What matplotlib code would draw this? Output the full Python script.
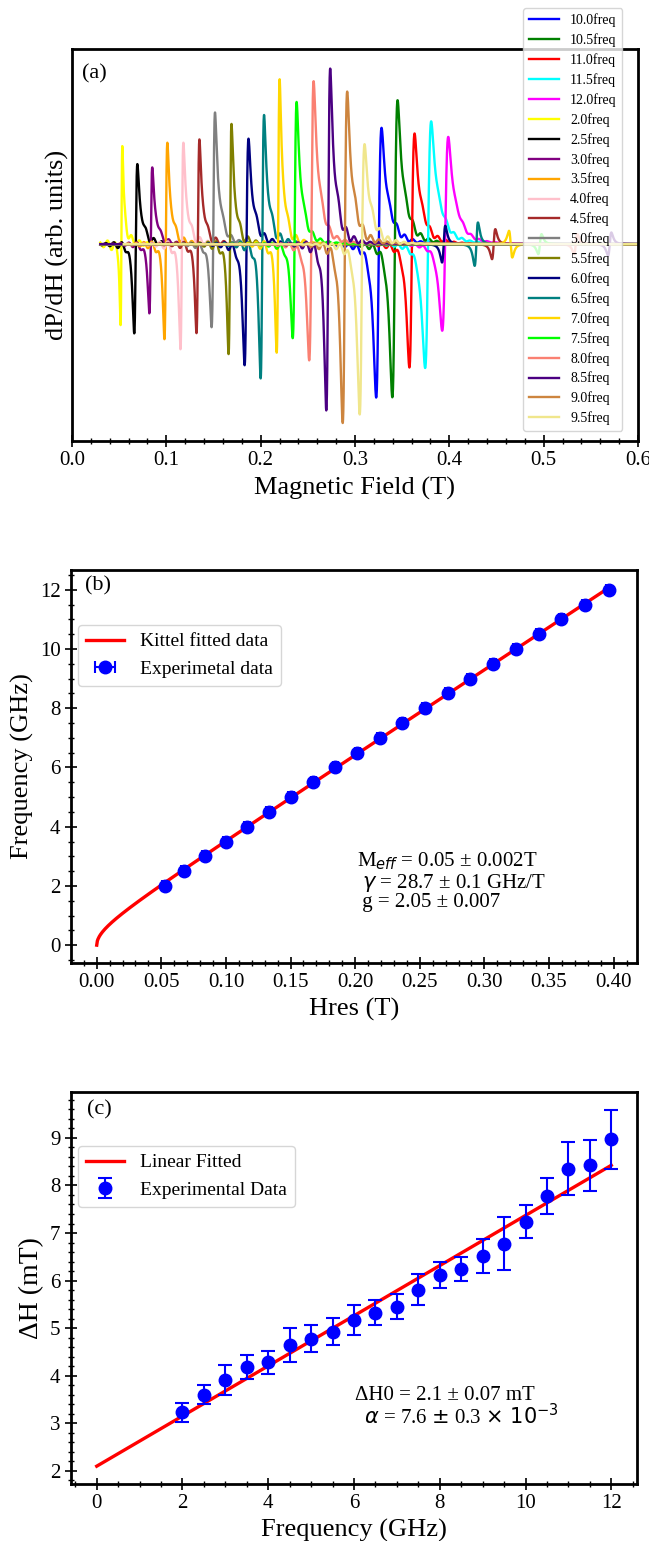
import numpy as np
import matplotlib
matplotlib.use("Agg")
import matplotlib.pyplot as plt
from matplotlib.ticker import AutoMinorLocator, MultipleLocator

plt.rcParams['font.family'] = ['Liberation Serif', 'DejaVu Sans']
plt.rcParams['mathtext.fontset'] = 'dejavusans'

# ---------------- Panel (a) data: FMR spectra ----------------
freq_labels = ['10.0', '10.5', '11.0', '11.5', '12.0', '2.0', '2.5', '3.0', '3.5', '4.0',
               '4.5', '5.0', '5.5', '6.0', '6.5', '7.0', '7.5', '8.0', '8.5', '9.0', '9.5']
spec_colors = ['blue', 'green', 'red', 'cyan', 'magenta', 'yellow', 'black', 'purple',
               'orange', 'pink', 'brown', 'gray', 'olive', 'navy', 'teal', 'gold', 'lime',
               'salmon', 'indigo', 'peru', 'khaki']
peak_field = [0.328, 0.345, 0.363, 0.3806, 0.3987, 0.0533, 0.0692, 0.085, 0.101, 0.118,
              0.135, 0.1515, 0.169, 0.187, 0.2035, 0.220, 0.238, 0.256, 0.2736, 0.2916, 0.310]
dip_field = [0.3225, 0.3396, 0.3577, 0.3744, 0.3925, 0.0515, 0.066, 0.082, 0.098, 0.115,
             0.132, 0.148, 0.166, 0.183, 0.200, 0.217, 0.234, 0.2515, 0.2696, 0.287, 0.305]
peak_amp = [3.53, 4.37, 3.36, 3.73, 3.26, 2.98, 2.43, 2.33, 3.08, 3.08,
            3.18, 4.00, 3.65, 3.20, 3.92, 5.01, 4.32, 4.95, 5.33, 4.63, 3.03]
dip_amp = [4.62, 4.62, 3.72, 3.74, 2.62, 2.45, 2.69, 2.09, 2.87, 3.17,
           2.69, 2.52, 3.32, 3.65, 4.05, 3.29, 2.85, 3.52, 5.02, 5.39, 5.12]
start_field = [0.03, 0.03, 0.03, 0.03, 0.03, 0.03, 0.03, 0.03, 0.03, 0.03,
               0.03, 0.03, 0.03, 0.03, 0.03, 0.03, 0.03, 0.03, 0.03, 0.055, 0.055]
sec_field = [0, 0, 0, 0, 0, 0, 0, 0, 0, 0,
             0.447, 0, 0, 0.394, 0.4286, 0.465, 0.496, 0.534, 0.570, 0, 0]
sec_amp = [0, 0, 0, 0, 0, 0, 0, 0, 0, 0,
           0.45, 0, 0, 0.55, 0.65, -0.40, 0.30, 0.30, 0.35, 0, 0]

# ---------------- Panel (b) data: Kittel ----------------
freq_b = [2.0, 2.5, 3.0, 3.5, 4.0, 4.5, 5.0, 5.5, 6.0, 6.5, 7.0,
          7.5, 8.0, 8.5, 9.0, 9.5, 10.0, 10.5, 11.0, 11.5, 12.0]
hres_b = [0.0526, 0.0676, 0.0837, 0.0997, 0.1163, 0.1333, 0.1503, 0.1676, 0.1846, 0.2016,
          0.2192, 0.2365, 0.2538, 0.2715, 0.2888, 0.3067, 0.3244, 0.3420, 0.3596, 0.3776, 0.3962]
gamma_fit = 28.7   # GHz/T
meff_fit = 0.05    # T

# ---------------- Panel (c) data: linewidth ----------------
freq_c = freq_b
dH_c = [3.23, 3.60, 3.91, 4.18, 4.28, 4.65, 4.78, 4.93, 5.17, 5.33, 5.45,
        5.81, 6.12, 6.24, 6.52, 6.78, 7.24, 7.78, 8.35, 8.42, 8.97]
dH_err = [0.20, 0.20, 0.31, 0.25, 0.24, 0.35, 0.28, 0.29, 0.31, 0.27, 0.26,
          0.32, 0.28, 0.25, 0.35, 0.56, 0.34, 0.38, 0.56, 0.53, 0.62]
dH0_fit = 2.1
slope_fit = 0.527

W, H = 649, 1541
fig = plt.figure(figsize=(W / 100, H / 100), dpi=100)


def add_ax(l, r, t, b):
    return fig.add_axes([l / W, 1 - b / H, (r - l) / W, (b - t) / H])


def style(ax):
    for s in ax.spines.values():
        s.set_linewidth(2)
    ax.tick_params(which='major', direction='inout', length=8, width=1.2,
                   labelsize=15, top=False, right=False)
    ax.tick_params(which='minor', direction='inout', length=4, width=1.0,
                   top=False, right=False)


def dlor(Hf, H0, w):
    x = (Hf - H0) / w
    return x / (1 + x ** 2) ** 2 / 0.32476


# ---------------- (a) ----------------
axa = add_ax(72, 638, 49, 441)
for i in range(len(freq_labels)):
    Hf = np.linspace(start_field[i], 0.61, 14000)
    hp, hd = peak_field[i], dip_field[i]
    H0 = 0.5 * (hp + hd)
    w = (hp - hd) * np.sqrt(3) / 2
    d = dlor(Hf, H0, w)
    shoulder_w = 2.0 * w
    sh = 0.2 * peak_amp[i] / (1 + ((Hf - hp - 1.5 * w) / shoulder_w) ** 2)
    sh *= 1 / (1 + np.exp(-(Hf - H0) / (0.3 * w)))
    sh_at_peak = 0.2 * peak_amp[i] / (1 + (1.5 * w / shoulder_w) ** 2)
    ap = peak_amp[i] - sh_at_peak
    y = np.where(d > 0, ap * d, dip_amp[i] * d) + sh
    x = (Hf - H0) / w
    ring = 0.14 * dip_amp[i] * np.exp(-np.abs(Hf - H0) / 0.014) * \
        np.sin(2 * np.pi * (Hf - H0) / 0.0085) * (1 - np.exp(-(x / 4) ** 2))
    y = y + ring
    if sec_field[i] > 0:
        y = y + sec_amp[i] * dlor(Hf, sec_field[i], 0.003)
    axa.plot(Hf, y, color=spec_colors[i], lw=1.7, label=freq_labels[i] + 'freq')
axa.set_xlim(0, 0.6)
axa.set_ylim(-5.9, 5.85)
axa.set_yticks([])
axa.xaxis.set_major_locator(MultipleLocator(0.1))
axa.xaxis.set_minor_locator(AutoMinorLocator(5))
style(axa)
axa.set_xlabel('Magnetic Field (T)', fontsize=19, labelpad=5)
axa.set_ylabel('dP/dH (arb. units)', fontsize=19, labelpad=2)
axa.text(0.018, 0.96, '(a)', transform=axa.transAxes, fontsize=16, va='top', ha='left')
axa.legend(loc='upper left', bbox_to_anchor=(523 / W, 1 - 8 / H),
           bbox_transform=fig.transFigure, borderaxespad=0, fontsize=10,
           handlelength=2.2, labelspacing=0.44, borderpad=0.4)

# ---------------- (b) ----------------
axb = add_ax(71, 637, 570, 963)
hfit = np.linspace(0, max(hres_b), 800)
ffit = gamma_fit * np.sqrt(hfit * (hfit + meff_fit))
axb.plot(hfit, ffit, color='red', lw=2.4, label='Kittel fitted data', zorder=2)
axb.errorbar(hres_b, freq_b, xerr=0.002, fmt='o', color='blue', ms=9,
             capsize=4, elinewidth=1.5, capthick=1.5, label='Experimetal data', zorder=3)
axb.xaxis.set_major_locator(MultipleLocator(0.05))
axb.xaxis.set_minor_locator(AutoMinorLocator())
axb.yaxis.set_major_locator(MultipleLocator(2))
axb.yaxis.set_minor_locator(AutoMinorLocator())
axb.xaxis.set_major_formatter(matplotlib.ticker.FormatStrFormatter('%.2f'))
style(axb)
axb.set_xlabel('Hres (T)', fontsize=19)
axb.set_ylabel('Frequency (GHz)', fontsize=19)
axb.text(0.025, 0.985, '(b)', transform=axb.transAxes, fontsize=16, va='top', ha='left')
axb.legend(loc='upper left', bbox_to_anchor=(0.012, 0.86), borderaxespad=0, fontsize=14)
axb.text(0.505, 0.2595, r'M$_{eff}$ = 0.05 ± 0.002T', transform=axb.transAxes,
         fontsize=15, va='center')
axb.text(0.505, 0.2036, r' $\gamma$ = 28.7 ± 0.1 GHz/T', transform=axb.transAxes,
         fontsize=15, va='center')
axb.text(0.505, 0.1527, ' g = 2.05 ± 0.007', transform=axb.transAxes,
         fontsize=15, va='center')

# ---------------- (c) ----------------
axc = add_ax(71, 637, 1092, 1484)
fl = np.array([0.0, 12.0])
axc.plot(fl, dH0_fit + slope_fit * fl, color='red', lw=2.4, label='Linear Fitted', zorder=2)
axc.errorbar(freq_c, dH_c, yerr=dH_err, fmt='o', color='blue', ms=9,
             capsize=5, elinewidth=1.5, capthick=1.5, label='Experimental Data', zorder=3)
axc.xaxis.set_major_locator(MultipleLocator(2))
axc.xaxis.set_minor_locator(AutoMinorLocator())
axc.yaxis.set_major_locator(MultipleLocator(1))
axc.yaxis.set_minor_locator(AutoMinorLocator())
style(axc)
axc.set_xlabel('Frequency (GHz)', fontsize=19)
axc.set_ylabel('ΔH (mT)', fontsize=20)
axc.text(0.028, 0.98, '(c)', transform=axc.transAxes, fontsize=16, va='top', ha='left')
axc.legend(loc='upper left', bbox_to_anchor=(0.012, 0.862), borderaxespad=0, fontsize=14)
axc.text(0.502, 0.227, 'ΔH0 = 2.1 ± 0.07 mT', transform=axc.transAxes,
         fontsize=15, va='center')
axc.text(0.509, 0.173, r' $\alpha$ = 7.6 $\pm$ 0.3 $\times\ 10^{-3}$', transform=axc.transAxes,
         fontsize=15, va='center')

fig.savefig('out.png', dpi=100)
